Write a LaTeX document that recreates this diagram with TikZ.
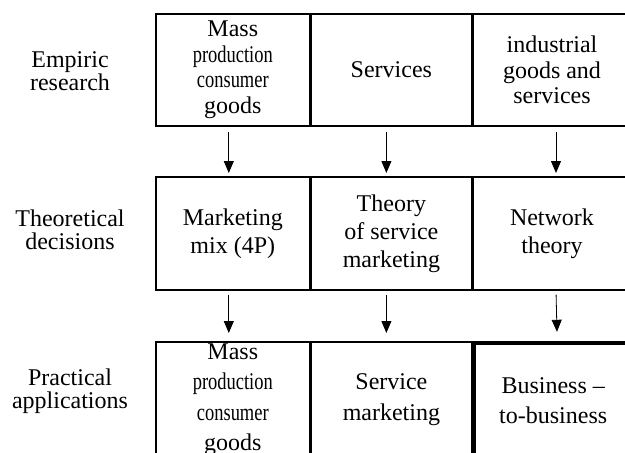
\documentclass[tikz,border=0pt]{standalone}
\usepackage{graphicx}
\usepackage{fontspec}
\setmainfont{Liberation Serif}
\usetikzlibrary{positioning,arrows.meta}
\newcommand{\narrowword}[1]{\scalebox{0.77}[1]{#1}}

\begin{document}
\begin{tikzpicture}[x=1pt,y=-1pt,
  cell/.style={draw, line width=1.6pt, inner sep=0pt, align=center},
  rowlabel/.style={align=center, font=\fontsize{24}{23.5}\selectfont},
  flow/.style={-{Triangle[length=12pt,width=10pt]}, line width=0.8pt}]
\useasboundingbox (0,0) rectangle (625,453);
\clip (0,0) rectangle (625,453);
% empiric research
\node[rowlabel] (lemp) at (70,71) {Empiric\\research};
\tikzset{every node/.append style={font=\fontsize{24}{25.5}\selectfont}}
\node[cell, anchor=north west, minimum width=154pt, minimum height=112pt] (emp1) at (155,13) {Mass\\\narrowword{production}\\\narrowword{consumer}\\goods};
\node[cell, right=0pt of emp1, minimum width=160pt, minimum height=112pt] (emp2) {Services};
\node[cell, right=0pt of emp2, minimum width=158pt, minimum height=112pt] (emp3) {industrial\\goods and\\services};
% theoretical decisions
\node[rowlabel] (ltheo) at (70,230) {Theoretical\\decisions};
\tikzset{every node/.append style={font=\fontsize{24}{28}\selectfont}}
\node[cell, anchor=north west, minimum width=154pt, minimum height=113pt] (theo1) at (155,176) {Marketing\\mix (4P)};
\node[cell, right=0pt of theo1, minimum width=160pt, minimum height=113pt] (theo2) {Theory\\of service\\marketing};
\node[cell, right=0pt of theo2, minimum width=158pt, minimum height=113pt] (theo3) {Network\\theory};
% practical applications
\node[rowlabel] (lprac) at (70,391) {Practical\\applications};
\tikzset{every node/.append style={font=\fontsize{24}{30.5}\selectfont}}
\node[cell, anchor=north west, minimum width=154pt, minimum height=116pt] (prac1) at (155,341) {Mass\\\narrowword{production}\\\narrowword{consumer}\\goods};
\node[cell, right=0pt of prac1, minimum width=160pt, minimum height=116pt] (prac2) {Service\\marketing};
\node[cell, right=0pt of prac2, yshift=-1pt, line width=4pt, minimum width=158pt, minimum height=116pt] (prac3) {Business --\\to-business};
% arrows
\draw[flow, shorten <=5pt, shorten >=3pt] ([xshift=-4pt]emp1.south) -- ([xshift=-4pt]theo1.north);
\draw[flow, shorten <=5pt, shorten >=3pt] ([xshift=-5pt]emp2.south) -- ([xshift=-5pt]theo2.north);
\draw[flow, shorten <=5pt, shorten >=3pt] ([xshift=4pt]emp3.south) -- ([xshift=4pt]theo3.north);
\draw[flow, shorten <=4pt, shorten >=8pt] ([xshift=-4pt]theo1.south) -- ([xshift=-4pt]prac1.north);
\draw[flow, shorten <=4pt, shorten >=8pt] ([xshift=-5pt]theo2.south) -- ([xshift=-5pt]prac2.north);
\draw[flow, shorten <=4pt, shorten >=9pt] ([xshift=4pt]theo3.south) -- ([xshift=4pt]prac3.north);
\end{tikzpicture}
\end{document}
